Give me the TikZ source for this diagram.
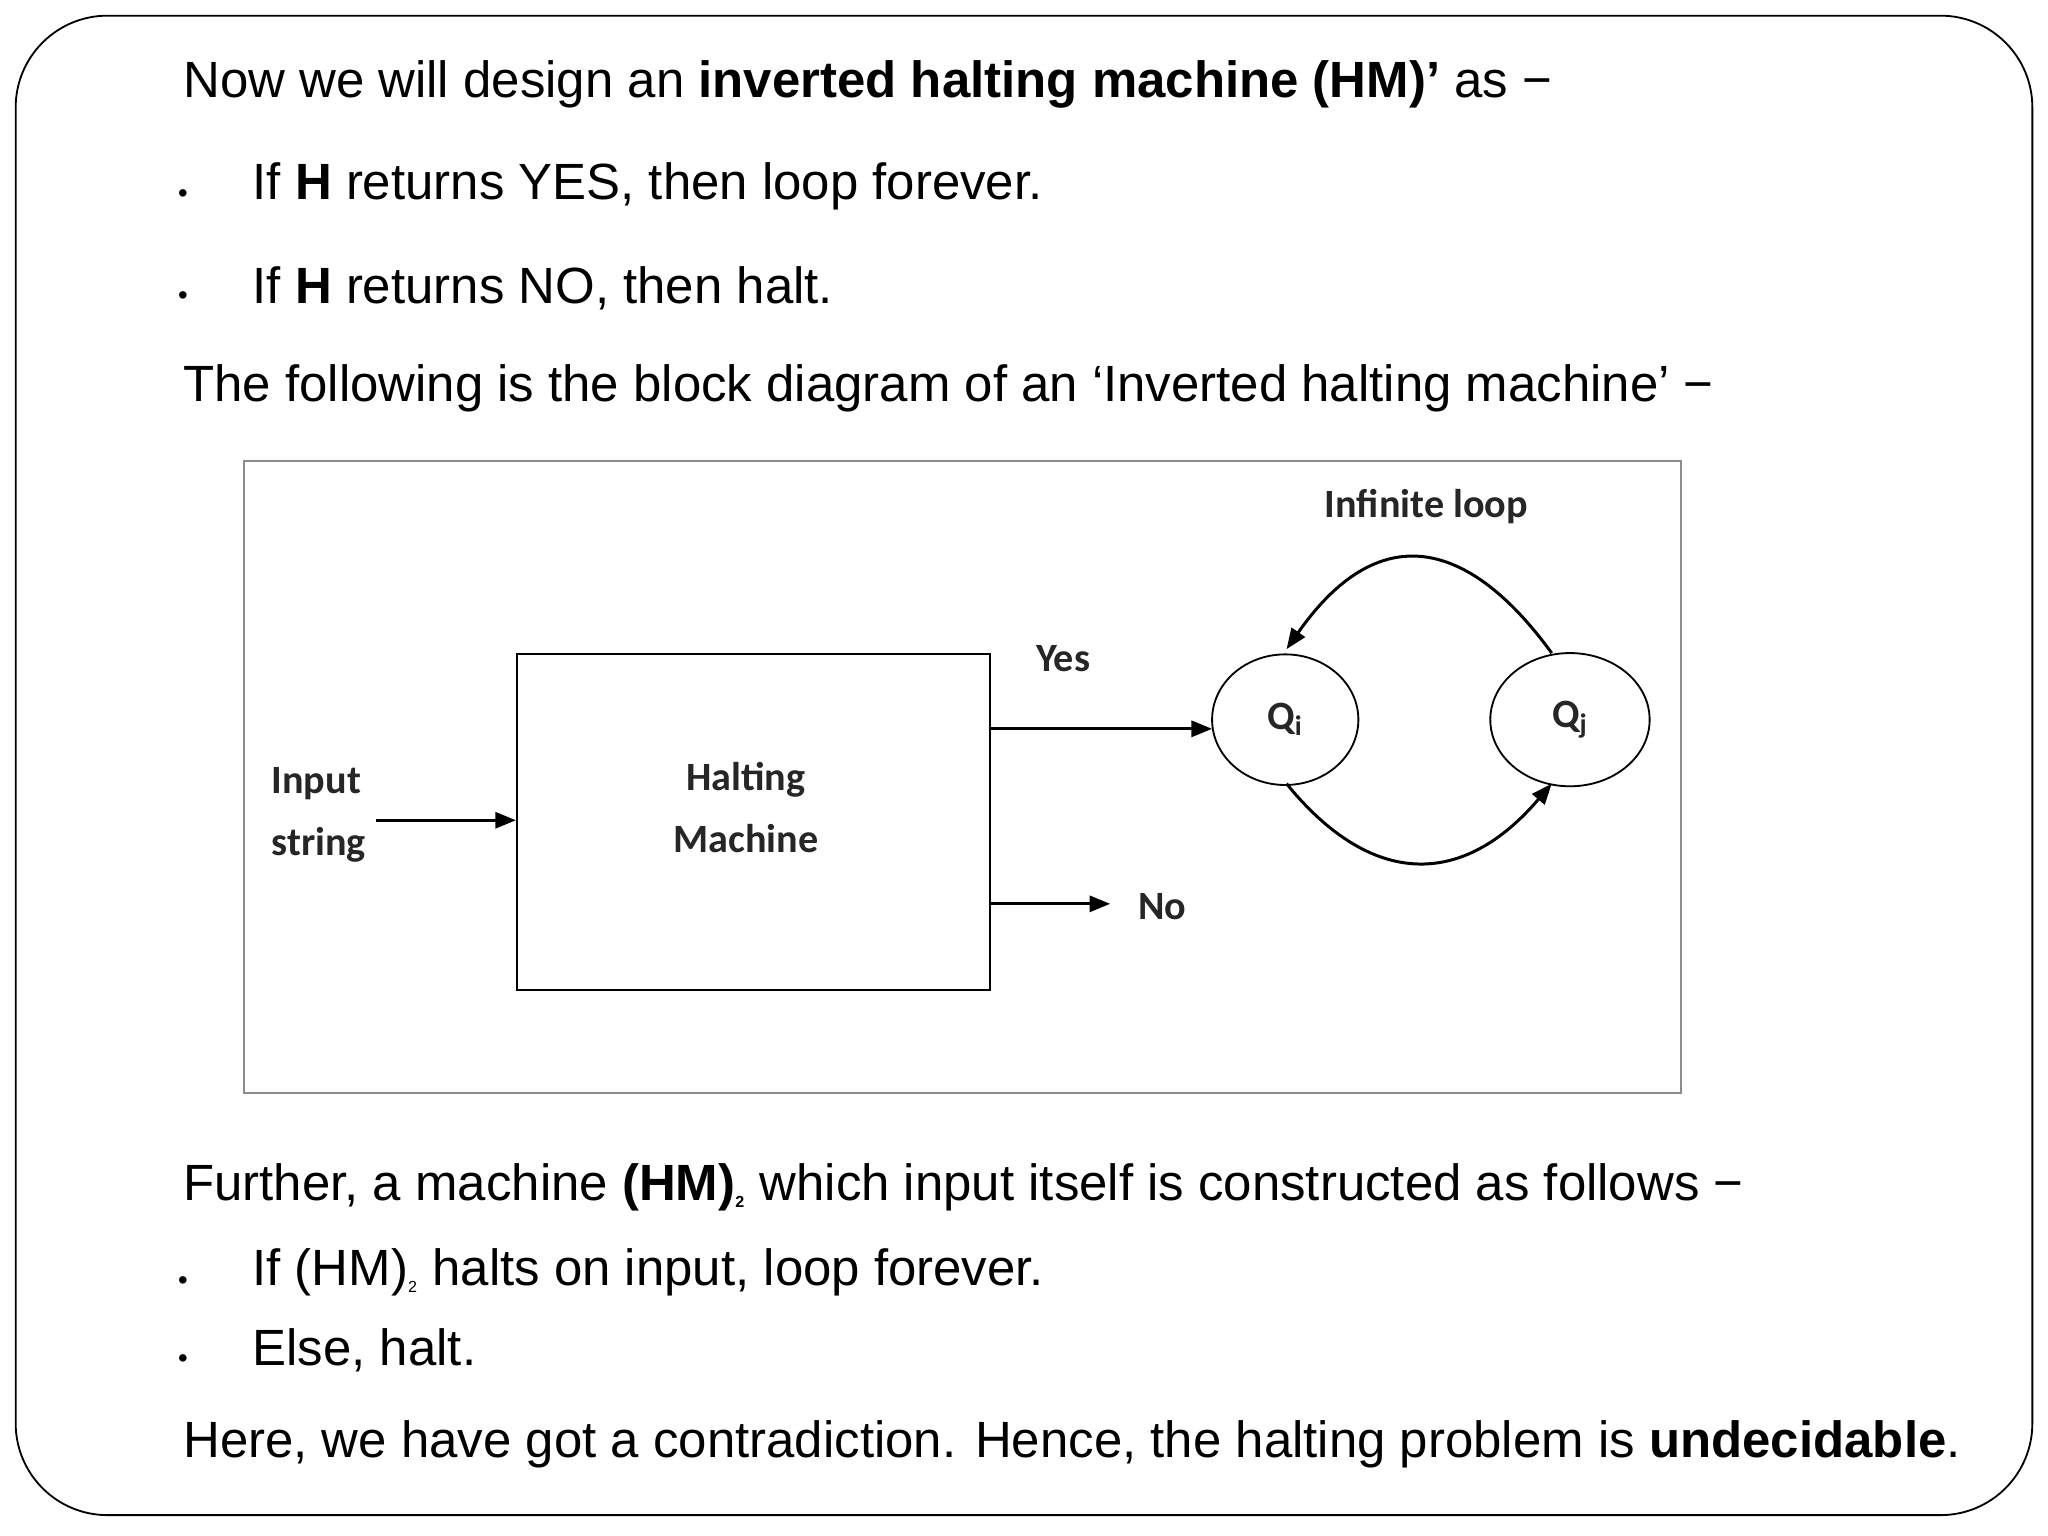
\documentclass[tikz,border=0pt]{standalone}
\usepackage{fontspec}
\setmainfont{Liberation Sans}
\newfontfamily\dgm{Carlito}
\usetikzlibrary{arrows.meta,shapes.geometric}
\begin{document}
\begin{tikzpicture}[x=0.02cm,y=-0.02cm,
  txt/.style={anchor=west,inner sep=0,font=\fontsize{22.2}{26}\selectfont},
  bul/.style={anchor=center,inner sep=0,font=\fontsize{12}{14}\selectfont},
  lab/.style={inner sep=0,font=\dgm\bfseries\fontsize{17.5}{21}\selectfont,text=black!85},
  arr/.style={line width=1.3pt,-{Triangle[length=9pt,width=7pt]}},
  st/.style={draw,ellipse,line width=0.8pt}]
\useasboundingbox (0,0) rectangle (1568,1176);
\draw[line width=0.8pt,rounded corners=40] (12,12) rectangle (1556,1160);
\node[txt] (l1) at (140,65) {Now we will design an \textbf{inverted halting machine (HM)’} as −};
\node[bul] (b1) at (140,150) {•};
\node[txt] (t1) at (193,143) {If \textbf{H} returns YES, then loop forever.};
\node[bul] (b2) at (140,228) {•};
\node[txt] (t2) at (193,221) {If \textbf{H} returns NO, then halt.};
\node[txt] (l2) at (140,297) {The following is the block diagram of an ‘Inverted halting machine’ −};
\draw[black!45,line width=1pt] (187,353) rectangle (1287,837);
\node[draw,line width=1pt,minimum width=362*0.02cm,minimum height=257*0.02cm,anchor=north west] (hm) at (395,500) {};
\node[lab,align=center] at (571,618) {Halting\\[6pt]Machine};
\node[lab,align=left] (in) at (244,624) {Input\\[6pt]string};
\coordinate (ins) at (288,628);
\draw[arr] (ins) -- (hm.west |- ins);
\node[st,minimum width=112*0.02cm,minimum height=100*0.02cm] (qi) at (984,551) {};
\node[lab] at (984,551) {Q\textsubscript{i}};
\node[st,minimum width=122*0.02cm,minimum height=102*0.02cm] (qj) at (1202,551) {};
\node[lab] at (1202,551) {Q\textsubscript{j}};
\coordinate (ys) at (757,558);
\draw[arr] (ys) -- (928,558);
\node[lab] (yes) at (814,504) {Yes};
\coordinate (ns) at (757,692);
\coordinate (ne) at (850,692);
\draw[arr] (ns) -- (ne);
\node[lab] (no) at (890,694) {No};
\node[lab] (inf) at (1092,388) {Infinite loop};
\draw[arr] (1188,500) .. controls (1130,420) and (1060,390) .. (985,497);
\draw[arr] (985,600) .. controls (1050,680) and (1120,680) .. (1188,600);
\node[txt] (l3) at (140,909) {Further, a machine \textbf{(HM)\textsubscript{\scriptsize 2}} which input itself is constructed as follows −};
\node[bul] (b3) at (140,982) {•};
\node[txt] (t3) at (193,974) {If (HM)\textsubscript{\scriptsize 2} halts on input, loop forever.};
\node[bul] (b4) at (140,1042) {•};
\node[txt] (t4) at (193,1034) {Else, halt.};
\node[txt] (l4) at (140,1106) {Here, we have got a contradiction. Hence, the halting problem is \textbf{undecidable}.};
\end{tikzpicture}
\end{document}
